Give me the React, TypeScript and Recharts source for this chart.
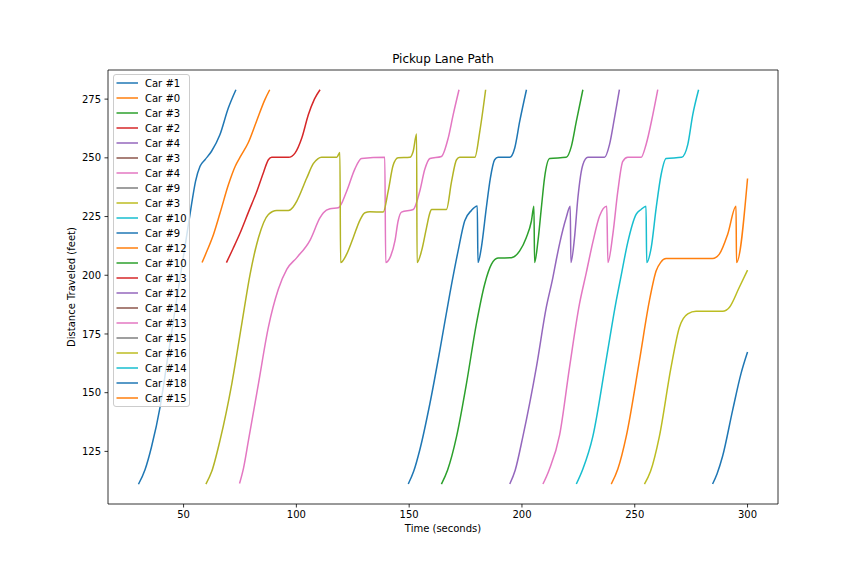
import React from "react";
import { LineChart, Line, XAxis, YAxis, ReferenceArea } from "recharts";

const tab = {
  blue: "#1f77b4",
  orange: "#ff7f0e",
  green: "#2ca02c",
  red: "#d62728",
  purple: "#9467bd",
  brown: "#8c564b",
  pink: "#e377c2",
  gray: "#7f7f7f",
  olive: "#bcbd22",
  cyan: "#17becf",
};
const cycle = [tab.blue, tab.orange, tab.green, tab.red, tab.purple, tab.brown, tab.pink, tab.gray, tab.olive, tab.cyan];

// legend entries, in plotting order
const legendNames = [
  "Car #1", "Car #0", "Car #3", "Car #2", "Car #4", "Car #3", "Car #4", "Car #9", "Car #3", "Car #10", "Car #9",
  "Car #12", "Car #10", "Car #13", "Car #12", "Car #14", "Car #13", "Car #15", "Car #16", "Car #14", "Car #18", "Car #15",
];

const xTicks = [50, 100, 150, 200, 250, 300];
const yTicks = [125, 150, 175, 200, 225, 250, 275];

// [time (s), distance (ft)]
const car1: [number, number][] = [
  [30, 111], [32.9, 117.2], [35.8, 127], [39.6, 144], [43, 165], [47, 190], [51, 214.5], [53.5, 230],
  [55.3, 240], [57.3, 246.4], [59.5, 249.2], [62.4, 252.8], [66.1, 259.8], [69.8, 271.1], [73.2, 279],
];
const car0: [number, number][] = [
  [58.2, 205.4], [60.4, 210.4], [63.3, 217.5], [66.2, 226.6], [69.9, 238.6], [72.9, 246.4], [75.5, 251],
  [78.6, 256.3], [82.3, 265.5], [86, 274.7], [88.2, 279],
];
const car2: [number, number][] = [
  [69, 205.4], [72, 211.5], [75.1, 218.1], [78.8, 227], [82.5, 235.8], [85.5, 244], [87.6, 249.2], [89.1, 250.2],
  [96.5, 250.2], [99.4, 252], [102.4, 258.4], [105.3, 268.3], [108, 275], [110.5, 279],
];
const car4: [number, number][] = [
  [74.8, 111.3], [76.6, 118], [78.8, 129.9], [83.2, 153.9], [87.6, 177.9], [92, 194], [95.8, 202.6], [100.2, 207.5],
  [106.1, 215], [110.5, 224.5], [112, 226.6], [114.9, 228.3], [118.6, 228.7], [122.3, 235.8], [126, 245.4],
  [128.9, 249.7], [139.2, 250.2], [139.6, 205.4], [141.5, 207.5], [143.7, 214.6], [145.1, 223.1], [146.6, 226.9],
  [151.8, 228], [154.7, 235.8], [156.9, 245], [159.2, 249.7], [164.3, 250.6], [167.3, 258.4], [169.5, 268.3], [172.1, 279],
];
const car3: [number, number][] = [
  [59.9, 111.1], [62.5, 116.5], [66.2, 129.9], [71.4, 153.9], [75.8, 179.3], [79.5, 200.5], [83.2, 216], [87.6, 225.9],
  [91.3, 227.6], [96.5, 227.6], [98.5, 229], [100.2, 231.6], [104.6, 241.4], [107.5, 247.5], [109.5, 249.6],
  [111.2, 250.2], [117.9, 250.2], [119.3, 252.3], [119.6, 205.4], [122.3, 209], [125.2, 216], [128.2, 223.5],
  [130.4, 226.6], [132.6, 227], [138.5, 226.9], [140.7, 235.8], [142.9, 246.8], [145.1, 250], [150.3, 250.2],
  [151.8, 252.8], [153.3, 260.1], [153.5, 205.4], [155.5, 210.4], [157.7, 220.3], [159.2, 226.6], [159.9, 228],
  [166.5, 228], [168.8, 240], [171, 249.2], [172.4, 250.2], [179.1, 250.2], [181.3, 261.2], [183.9, 279],
];
const car9: [number, number][] = [
  [149.6, 111.1], [152, 116.5], [154.7, 125.6], [159.2, 145.4], [163.6, 168], [168, 192], [171.7, 210.4],
  [174.6, 223.1], [177.6, 227.6], [180.2, 229.5], [180.5, 205.4], [182, 211.8], [184.2, 228.7], [186, 241.4],
  [187.9, 249.2], [189.4, 250.2], [194.6, 250.2], [196.8, 254.2], [199, 265.5], [202, 279],
];
const car10: [number, number][] = [
  [164.3, 111.1], [167, 117], [171, 131.3], [175.4, 153.9], [179.8, 179.3], [183.5, 196.3], [186.5, 204.7],
  [189.4, 207.3], [195.3, 207.5], [199, 210.4], [201.9, 216], [204.2, 223.1], [205.3, 229.4], [205.6, 205.4],
  [207.1, 214.6], [208.6, 228.7], [210, 241.4], [212.3, 249.7], [219.6, 250.2], [221.9, 254.9], [224.1, 265.5], [227, 279],
];
const car12: [number, number][] = [
  [194.6, 111.1], [197, 117], [200.4, 131.3], [206.4, 160.9], [210.8, 186.4], [213.7, 199], [215.2, 206.5],
  [216.7, 213.5], [219.6, 224.5], [221.4, 229.4], [221.7, 205.4], [223.3, 216], [224.8, 233], [227, 247.1],
  [229.2, 250.2], [236.6, 250.2], [238.8, 255.6], [241, 266.9], [243.2, 279],
];
const car13: [number, number][] = [
  [209.3, 111.1], [212, 117], [216.7, 132], [221.1, 160.9], [225.5, 187.8], [228.5, 201], [231.4, 214],
  [234.4, 225.2], [237.6, 229.4], [238.1, 205.4], [240.3, 217.5], [242.5, 235.8], [244.7, 248.5], [246.9, 250.2],
  [252.8, 250.2], [255, 255.6], [258, 268.3], [260.2, 279],
];
const car14: [number, number][] = [
  [224.1, 111.1], [227, 117.5], [231.4, 131.3], [237.3, 163.8], [241.8, 189.2], [243.9, 199.5], [246.9, 214],
  [250.6, 225.9], [252.8, 228], [255, 229.4], [255.3, 205.4], [257.3, 211.8], [259.5, 228.7], [261.7, 242.9],
  [263.9, 249.7], [270.8, 250.2], [273.5, 255.6], [275.7, 268.3], [278.3, 279],
];
const car16: [number, number][] = [
  [254.3, 111.1], [257, 116.5], [260.9, 131.3], [266.1, 160.9], [269.8, 177.9], [273.5, 183.6], [277.2, 184.7],
  [289, 184.7], [292, 186.4], [296.3, 194.8], [300, 202.2],
];
const car18: [number, number][] = [
  [284.5, 111.1], [286.5, 115.5], [288.9, 122.8], [293.4, 142.6], [297.1, 158.1], [300, 167.3],
];
const car15: [number, number][] = [
  [239.6, 111.1], [242.5, 117.5], [246.2, 131.3], [252.1, 163.8], [256.5, 189.2], [259.5, 201.9], [261.5, 205.5],
  [263.9, 207.1], [284.5, 207.1], [287.5, 209], [291.2, 217.5], [294.9, 229.4], [295.1, 205.4], [300, 241.2],
];

const paths = [
  { pts: car1, color: tab.blue },
  { pts: car0, color: tab.orange },
  { pts: car2, color: tab.red },
  { pts: car4, color: tab.pink },
  { pts: car3, color: "#b3b425" },
  { pts: car9, color: tab.blue },
  { pts: car10, color: tab.green },
  { pts: car12, color: tab.purple },
  { pts: car13, color: tab.pink },
  { pts: car16, color: tab.olive },
  { pts: car14, color: tab.cyan },
  { pts: car18, color: tab.blue },
  { pts: car15, color: tab.orange },
];

const font = "'DejaVu Sans', sans-serif";

export default function App() {
  return (
    <div style={{ position: "absolute", left: 0, top: 0, width: 864, height: 576, background: "#fff", fontFamily: font }}>
      <LineChart width={864} height={576} margin={{ top: 70, right: 86, bottom: 32, left: 48 }}>
        <XAxis
          type="number"
          dataKey="t"
          domain={[16.5, 313.5]}
          ticks={xTicks}
          allowDataOverflow
          height={40}
          tickSize={3.5}
          tickMargin={3}
          axisLine={false}
          tickLine={{ stroke: "#000", strokeWidth: 0.8 }}
          tick={{ fill: "#000", fontSize: 10, fontFamily: font }}
        />
        <YAxis
          type="number"
          domain={[102.6, 287.4]}
          ticks={yTicks}
          allowDataOverflow
          width={60}
          tickSize={3.5}
          tickMargin={3.5}
          axisLine={false}
          tickLine={{ stroke: "#000", strokeWidth: 0.8 }}
          tick={{ fill: "#000", fontSize: 10, fontFamily: font }}
        />
        {paths.map((p, i) => (
          <Line
            key={i}
            data={p.pts.map(([t, d]) => ({ t, d }))}
            dataKey="d"
            type="monotone"
            stroke={p.color}
            strokeWidth={1.5}
            dot={false}
            activeDot={false}
            isAnimationActive={false}
          />
        ))}
        <ReferenceArea x1={16.5} x2={313.5} y1={102.6} y2={287.4} fill="none" stroke="#000" strokeWidth={0.8} />
      </LineChart>

      <div style={{ position: "absolute", left: 108, width: 670, top: 52, textAlign: "center", fontSize: 12, lineHeight: "14px" }}>
        Pickup Lane Path
      </div>
      <div style={{ position: "absolute", left: 108, width: 670, top: 522, textAlign: "center", fontSize: 10, lineHeight: "14px" }}>
        Time (seconds)
      </div>
      <div
        style={{
          position: "absolute",
          left: 72 - 100,
          top: 287 - 7,
          width: 200,
          textAlign: "center",
          fontSize: 10,
          lineHeight: "14px",
          transform: "rotate(-90deg)",
        }}
      >
        Distance Traveled (feet)
      </div>

      <div
        style={{
          position: "absolute",
          left: 113,
          top: 74,
          width: 77,
          height: 333,
          boxSizing: "border-box",
          border: "1px solid #cccccc",
          borderRadius: 3,
          background: "rgba(255,255,255,0.8)",
        }}
      >
        {legendNames.map((name, i) => (
          <div key={i} style={{ position: "absolute", left: 0, top: 0.5 + i * 15, height: 15, display: "flex", alignItems: "center" }}>
            <svg width={25} height={4} style={{ marginLeft: 2 }}>
              <line x1={0.5} y1={2} x2={22} y2={2} stroke={cycle[i % 10]} strokeWidth={1.5} />
            </svg>
            <span style={{ fontSize: 10, marginLeft: 4, whiteSpace: "nowrap" }}>{name}</span>
          </div>
        ))}
      </div>
    </div>
  );
}
